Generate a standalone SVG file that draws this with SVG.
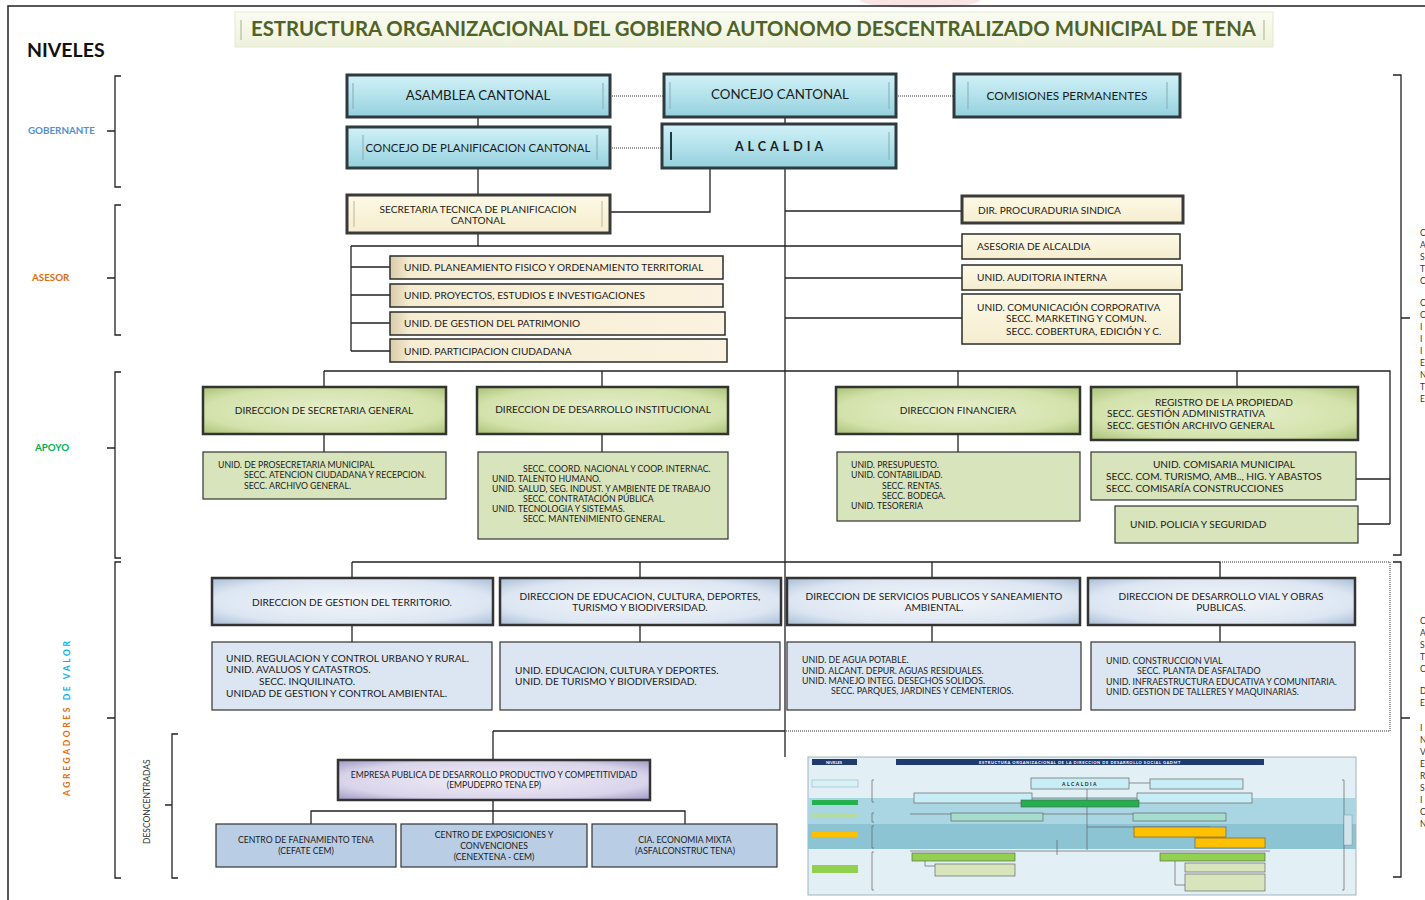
<svg xmlns="http://www.w3.org/2000/svg" width="1425" height="900" viewBox="0 0 1425 900">
<defs>
<linearGradient id="gCyan" x1="0" y1="0" x2="0" y2="1">
<stop offset="0" stop-color="#d2f1f7"/><stop offset="0.5" stop-color="#b3e2ec"/><stop offset="1" stop-color="#94d0dd"/>
</linearGradient>
<linearGradient id="gCream" x1="0" y1="0" x2="1" y2="0">
<stop offset="0" stop-color="#d9cba8"/><stop offset="0.06" stop-color="#f6ecd2"/><stop offset="1" stop-color="#fbf3df"/>
</linearGradient>
<linearGradient id="gCreamV" x1="0" y1="0" x2="0" y2="1">
<stop offset="0" stop-color="#fdf9e6"/><stop offset="1" stop-color="#f5edcf"/>
</linearGradient>
<radialGradient id="gGreen" cx="0.5" cy="0.5" r="0.7">
<stop offset="0" stop-color="#e6efcd"/><stop offset="0.7" stop-color="#d3e2ab"/><stop offset="1" stop-color="#aac277"/>
</radialGradient>
<radialGradient id="gBlue" cx="0.5" cy="0.5" r="0.7">
<stop offset="0" stop-color="#f3f6fb"/><stop offset="0.7" stop-color="#dce6f2"/><stop offset="1" stop-color="#a9bdd6"/>
</radialGradient>
<radialGradient id="gLav" cx="0.5" cy="0.5" r="0.7">
<stop offset="0" stop-color="#f1eef7"/><stop offset="0.7" stop-color="#d9d4ea"/><stop offset="1" stop-color="#9f98c4"/>
</radialGradient>
<linearGradient id="gTitle" x1="0" y1="0" x2="0" y2="1">
<stop offset="0" stop-color="#fbfcf2"/><stop offset="1" stop-color="#eef2dc"/>
</linearGradient>
<style>
text{font-family:Lato,"Liberation Sans",sans-serif;fill:#1a1a1a}
.c{text-anchor:middle}
.cyan{fill:url(#gCyan);stroke:#2f3a3e;stroke-width:3}
.cream{fill:url(#gCream);stroke:#2b2b2b;stroke-width:1.5}
.creamv{fill:url(#gCreamV);stroke:#3a3a3a;stroke-width:3}
.gdir{fill:url(#gGreen);stroke:#333;stroke-width:2.5}
.gunit{fill:#d8e4bc;stroke:#333;stroke-width:1.2}
.bdir{fill:url(#gBlue);stroke:#333;stroke-width:2.5}
.bunit{fill:#dce6f2;stroke:#333;stroke-width:1.2}
.lav{fill:url(#gLav);stroke:#333;stroke-width:2.5}
.lb{fill:#b9cde5;stroke:#333;stroke-width:1.2}
.bar{stroke:#8fb4bd;stroke-width:1.2;fill:none}
.ln{stroke:#222;stroke-width:1.3;fill:none}
.dot{stroke:#333;stroke-width:1;fill:none;stroke-dasharray:1 1}
.br{stroke:#222;stroke-width:1.3;fill:none}
.t13{font-size:13.3px}
.t11{font-size:11.8px}
.t10{font-size:11.4px}
.t9{font-size:10.1px}
.t8{font-size:8.8px}
.t75{font-size:8.7px}
.t85{font-size:8.6px}
.edge{font-size:8.5px;fill:#333}
</style>
</defs>
<rect x="0" y="0" width="1425" height="900" fill="#ffffff"/>
<ellipse cx="920" cy="0" rx="60" ry="8" fill="#f3c9c9" opacity="0.5"/>
<path d="M8,900 V6 H1425" stroke="#222" stroke-width="1.5" fill="none"/>

<g id="title">
<rect x="235" y="12" width="1038" height="35" fill="url(#gTitle)" stroke="#e3e8cf" stroke-width="1"/>
<line x1="241" y1="20" x2="241" y2="40" stroke="#c0c8a8" stroke-width="1.5"/>
<line x1="1264" y1="20" x2="1264" y2="40" stroke="#c0c8a8" stroke-width="1.5"/>
<text x="251" y="36" textLength="1005" lengthAdjust="spacingAndGlyphs" style="font-size:20px;font-weight:bold;fill:#4f6228">ESTRUCTURA ORGANIZACIONAL DEL GOBIERNO AUTONOMO DESCENTRALIZADO MUNICIPAL DE TENA</text>
</g>
<text x="27" y="57" style="font-size:19.5px;font-weight:bold;fill:#111">NIVELES</text>

<g id="levels">
<path class="br" d="M121,76 H115 V187 H121 M107,131 H115"/>
<path class="br" d="M121,205 H115 V335 H121 M107,278 H115"/>
<path class="br" d="M121,372 H115 V558 H121 M107,448 H115"/>
<path class="br" d="M121,562 H115 V878 H121 M107,718 H115"/>
<path class="br" d="M178,734 H172 V878 H178 M165,805 H172"/>
<path class="br" d="M1393,75 H1401 V555 H1393 M1401,318 H1410"/>
<path class="br" d="M1393,562 H1401 V877 H1393 M1401,718 H1410"/>
<text x="28" y="134" style="font-size:9.8px;font-weight:bold;fill:#558ed5">GOBERNANTE</text>
<text x="32" y="281" style="font-size:9.8px;font-weight:bold;fill:#e46c0a">ASESOR</text>
<text x="35" y="451" style="font-size:9.8px;font-weight:bold;fill:#00b050">APOYO</text>
<text transform="translate(70,796) rotate(-90)" style="font-size:8.5px;font-weight:bold;letter-spacing:2.6px"><tspan style="fill:#e46c0a">AGREGADORES</tspan><tspan style="fill:#00b0f0"> DE VALOR</tspan></text>
<text transform="translate(150,844) rotate(-90)" style="font-size:8.5px;fill:#333">DESCONCENTRADAS</text>
</g>

<g id="edge-text">
<text class="edge" x="1420" y="236">C</text><text class="edge" x="1420" y="248">A</text><text class="edge" x="1420" y="260">S</text><text class="edge" x="1420" y="272">T</text><text class="edge" x="1420" y="284">C</text>
<text class="edge" x="1420" y="306">C</text><text class="edge" x="1420" y="318">C</text><text class="edge" x="1420" y="330">I</text><text class="edge" x="1420" y="342">I</text><text class="edge" x="1420" y="354">I</text><text class="edge" x="1420" y="366">E</text><text class="edge" x="1420" y="378">N</text><text class="edge" x="1420" y="390">T</text><text class="edge" x="1420" y="402">E</text>
<text class="edge" x="1420" y="624">C</text><text class="edge" x="1420" y="636">A</text><text class="edge" x="1420" y="648">S</text><text class="edge" x="1420" y="660">T</text><text class="edge" x="1420" y="672">C</text>
<text class="edge" x="1420" y="694">D</text><text class="edge" x="1420" y="706">E</text>
<text class="edge" x="1420" y="731">I</text><text class="edge" x="1420" y="743">N</text><text class="edge" x="1420" y="755">V</text><text class="edge" x="1420" y="767">E</text><text class="edge" x="1420" y="779">R</text><text class="edge" x="1420" y="791">S</text><text class="edge" x="1420" y="803">I</text><text class="edge" x="1420" y="815">C</text><text class="edge" x="1420" y="827">N</text>
</g>

<g id="connectors">
<path class="dot" d="M610,96 H664 M896,96 H954 M610,148 H662"/>
<path class="ln" d="M478,117 V127 M785,117 V124 M478,168 V195 M710,168 V212 H610 M785,168 V757"/>
<path class="ln" d="M478,233 V246 M351,246 H962 M351,246 V351 M351,267 H390 M351,295 H390 M351,323 H390 M351,351 H390"/>
<path class="ln" d="M785,211 H962 M785,278 H962 M785,318 H962"/>
<path class="ln" d="M324,371 H1390 V524 M324,371 V387 M602,371 V387 M958,371 V387 M1237,371 V387 M1356,479 H1390 M1358,524 H1390"/>
<path class="ln" d="M324,434 V452 M602,434 V452 M958,434 V452"/>
<path class="ln" d="M352,562 H1220 M352,562 V578 M640,562 V578 M932,562 V578 M1220,562 V578"/>
<path class="dot" d="M1220,562 H1390 V731 H785"/>
<path class="ln" d="M352,625 V642 M640,625 V642 M932,625 V642 M1220,625 V642"/>
<path class="ln" d="M493,731 H785 M493,731 V760 M493,800 V824 M311,824 V811 H685 V824"/>
</g>

<g id="asamblea"><rect class="cyan" x="347" y="75" width="263" height="42"/><path class="bar" d="M353,83 V109 M603,83 V109"/><text class="c t13" x="478" y="100">ASAMBLEA CANTONAL</text></g>
<g id="concejo"><rect class="cyan" x="664" y="74" width="232" height="43"/><path class="bar" d="M670,82 V109 M889,82 V109"/><text class="c t13" x="780" y="99">CONCEJO CANTONAL</text></g>
<g id="comisiones"><rect class="cyan" x="954" y="74" width="226" height="43"/><path class="bar" d="M968,82 V109 M1167,82 V109"/><text class="c t11" x="1067" y="100">COMISIONES  PERMANENTES</text></g>
<g id="concejo-plan"><rect class="cyan" x="347" y="127" width="263" height="41"/><path class="bar" d="M363,135 V160 M597,135 V160"/><text class="c t10" x="478" y="152">CONCEJO  DE PLANIFICACION  CANTONAL</text></g>
<g id="alcaldia"><rect class="cyan" x="662" y="124" width="234" height="44"/><path d="M671,132 V160" style="stroke:#1f3b45;stroke-width:2"/><path class="bar" d="M889,132 V160"/><text class="c" x="781" y="151" style="font-size:12.5px;font-weight:bold;letter-spacing:4px">ALCALDIA</text></g>

<g id="secretaria-tecnica"><rect class="creamv" x="347" y="195" width="263" height="38"/><path class="bar" d="M354,201 V227 M602,201 V227" style="stroke:#c9bf9e"/><text class="c t9" x="478" y="213">SECRETARIA TECNICA DE PLANIFICACION</text><text class="c t9" x="478" y="224">CANTONAL</text></g>
<g id="u-planeamiento"><rect class="cream" x="390" y="256" width="333" height="23"/><text class="t9" x="404" y="271">UNID. PLANEAMIENTO FISICO Y ORDENAMIENTO TERRITORIAL</text></g>
<g id="u-proyectos"><rect class="cream" x="390" y="284" width="333" height="23"/><text class="t9" x="404" y="299">UNID. PROYECTOS,  ESTUDIOS E INVESTIGACIONES</text></g>
<g id="u-patrimonio"><rect class="cream" x="390" y="312" width="335" height="23"/><text class="t9" x="404" y="327">UNID. DE GESTION DEL PATRIMONIO</text></g>
<g id="u-participacion"><rect class="cream" x="390" y="339" width="337" height="23"/><text class="t9" x="404" y="355">UNID. PARTICIPACION  CIUDADANA</text></g>

<g id="procuraduria"><rect class="creamv" x="962" y="196" width="221" height="27"/><text class="t9" x="978" y="214">DIR. PROCURADURIA  SINDICA</text></g>
<g id="asesoria"><rect class="cream" x="962" y="234" width="218" height="25" style="fill:url(#gCreamV)"/><text class="t9" x="977" y="250">ASESORIA DE ALCALDIA</text></g>
<g id="auditoria"><rect class="cream" x="962" y="265" width="220" height="25" style="fill:url(#gCreamV)"/><text class="t9" x="977" y="281">UNID. AUDITORIA INTERNA</text></g>
<g id="comunicacion"><rect class="cream" x="962" y="294" width="218" height="50" style="fill:url(#gCreamV)"/><text class="t9" x="977" y="311">UNID. COMUNICACIÓN CORPORATIVA</text><text class="t9" x="1006" y="322">SECC. MARKETING Y COMUN.</text><text class="t9" x="1006" y="335">SECC. COBERTURA, EDICIÓN Y C.</text></g>

<g id="dir-secretaria"><rect class="gdir" x="203" y="387" width="243" height="47"/><text class="c t9" x="324" y="414">DIRECCION  DE SECRETARIA GENERAL</text></g>
<g id="dir-institucional"><rect class="gdir" x="477" y="387" width="251" height="47"/><text class="c t9" x="603" y="413">DIRECCION  DE DESARROLLO INSTITUCIONAL</text></g>
<g id="dir-financiera"><rect class="gdir" x="836" y="387" width="244" height="47"/><text class="c t9" x="958" y="414">DIRECCION  FINANCIERA</text></g>
<g id="registro"><rect class="gdir" x="1091" y="387" width="267" height="53"/><text class="c t9" x="1224" y="406">REGISTRO DE LA PROPIEDAD</text><text class="t9" x="1107" y="417">SECC. GESTIÓN ADMINISTRATIVA</text><text class="t9" x="1107" y="429">SECC. GESTIÓN ARCHIVO GENERAL</text></g>

<g id="u-secretaria"><rect class="gunit" x="203" y="452" width="243" height="47"/><text class="t75" x="218" y="468">UNID. DE PROSECRETARIA MUNICIPAL</text><text class="t75" x="244" y="478">SECC. ATENCION CIUDADANA Y RECEPCION.</text><text class="t75" x="244" y="489">SECC. ARCHIVO GENERAL.</text></g>
<g id="u-institucional"><rect class="gunit" x="478" y="452" width="250" height="87"/><text class="t75" x="523" y="472">SECC. COORD. NACIONAL Y COOP. INTERNAC.</text><text class="t75" x="492" y="482">UNID. TALENTO HUMANO.</text><text class="t75" x="492" y="492">UNID. SALUD, SEG. INDUST. Y AMBIENTE DE TRABAJO</text><text class="t75" x="523" y="502">SECC. CONTRATACIÓN PÚBLICA</text><text class="t75" x="492" y="512">UNID. TECNOLOGIA Y SISTEMAS.</text><text class="t75" x="523" y="522">SECC. MANTENIMIENTO GENERAL.</text></g>
<g id="u-financiera"><rect class="gunit" x="837" y="452" width="243" height="69"/><text class="t75" x="851" y="468">UNID. PRESUPUESTO.</text><text class="t75" x="851" y="478">UNID. CONTABILIDAD.</text><text class="t75" x="882" y="489">SECC. RENTAS.</text><text class="t75" x="882" y="499">SECC. BODEGA.</text><text class="t75" x="851" y="509">UNID. TESORERIA</text></g>
<g id="comisaria"><rect class="gunit" x="1091" y="452" width="265" height="48"/><text class="c t9" x="1224" y="468">UNID. COMISARIA MUNICIPAL</text><text class="t9" x="1106" y="480">SECC. COM. TURISMO, AMB.., HIG. Y ABASTOS</text><text class="t9" x="1106" y="492">SECC. COMISARÍA CONSTRUCCIONES</text></g>
<g id="policia"><rect class="gunit" x="1115" y="506" width="243" height="37"/><text class="t9" x="1130" y="528">UNID. POLICIA  Y SEGURIDAD</text></g>

<g id="dir-territorio"><rect class="bdir" x="212" y="578" width="281" height="47"/><text class="c t9" x="352" y="606">DIRECCION  DE GESTION DEL TERRITORIO.</text></g>
<g id="dir-educacion"><rect class="bdir" x="500" y="578" width="281" height="47"/><text class="c t9" x="640" y="600">DIRECCION  DE EDUCACION, CULTURA, DEPORTES,</text><text class="c t9" x="640" y="611">TURISMO Y BIODIVERSIDAD.</text></g>
<g id="dir-servicios"><rect class="bdir" x="787" y="578" width="293" height="47"/><text class="c t9" x="934" y="600">DIRECCION  DE SERVICIOS PUBLICOS Y SANEAMIENTO</text><text class="c t9" x="934" y="611">AMBIENTAL.</text></g>
<g id="dir-vial"><rect class="bdir" x="1088" y="578" width="267" height="47"/><text class="c t9" x="1221" y="600">DIRECCION  DE DESARROLLO VIAL Y OBRAS</text><text class="c t9" x="1221" y="611">PUBLICAS.</text></g>

<g id="u-territorio"><rect class="bunit" x="212" y="642" width="280" height="68"/><text class="t9" x="226" y="662">UNID. REGULACION Y CONTROL URBANO Y RURAL.</text><text class="t9" x="226" y="673">UNID. AVALUOS Y CATASTROS.</text><text class="t9" x="259" y="685">SECC. INQUILINATO.</text><text class="t9" x="226" y="697">UNIDAD DE GESTION Y CONTROL AMBIENTAL.</text></g>
<g id="u-educacion"><rect class="bunit" x="500" y="642" width="280" height="68"/><text class="t9" x="515" y="674">UNID. EDUCACION, CULTURA  Y DEPORTES.</text><text class="t9" x="515" y="685">UNID. DE TURISMO Y BIODIVERSIDAD.</text></g>
<g id="u-servicios"><rect class="bunit" x="787" y="642" width="294" height="68"/><text class="t8" x="802" y="663">UNID. DE AGUA POTABLE.</text><text class="t8" x="802" y="674">UNID. ALCANT. DEPUR. AGUAS RESIDUALES.</text><text class="t8" x="802" y="684">UNID. MANEJO INTEG. DESECHOS SOLIDOS.</text><text class="t8" x="831" y="694">SECC. PARQUES, JARDINES Y CEMENTERIOS.</text></g>
<g id="u-vial"><rect class="bunit" x="1091" y="642" width="264" height="68"/><text class="t8" x="1106" y="664">UNID. CONSTRUCCION VIAL</text><text class="t8" x="1137" y="674">SECC. PLANTA DE ASFALTADO</text><text class="t8" x="1106" y="685">UNID. INFRAESTRUCTURA EDUCATIVA Y COMUNITARIA.</text><text class="t8" x="1106" y="695">UNID. GESTION DE TALLERES Y MAQUINARIAS.</text></g>

<g id="empresa"><rect class="lav" x="338" y="760" width="312" height="40"/><text class="c t85" x="494" y="778">EMPRESA PUBLICA DE DESARROLLO PRODUCTIVO Y COMPETITIVIDAD</text><text class="c t85" x="494" y="788">(EMPUDEPRO TENA EP)</text></g>
<g id="cefate"><rect class="lb" x="216" y="824" width="180" height="43"/><text class="c t85" x="306" y="843">CENTRO DE FAENAMIENTO TENA</text><text class="c t85" x="306" y="854">(CEFATE CEM)</text></g>
<g id="cenextena"><rect class="lb" x="401" y="824" width="186" height="43"/><text class="c t85" x="494" y="838">CENTRO DE EXPOSICIONES Y</text><text class="c t85" x="494" y="849">CONVENCIONES</text><text class="c t85" x="494" y="860">(CENEXTENA - CEM)</text></g>
<g id="asfalconstruc"><rect class="lb" x="592" y="824" width="185" height="43"/><text class="c t85" x="685" y="843">CIA. ECONOMIA MIXTA</text><text class="c t85" x="685" y="854">(ASFALCONSTRUC TENA)</text></g>

<g id="inset">
<rect x="808" y="757" width="548" height="138" fill="#e2eff5" stroke="#9fb3bd" stroke-width="1"/>
<rect x="808" y="798" width="548" height="26" fill="#a9d6e2"/>
<rect x="808" y="824" width="548" height="25" fill="#8cc4d4"/>
<rect x="812" y="759" width="45" height="6" fill="#1f3a6e"/>
<rect x="896" y="759" width="368" height="6" fill="#1f3a6e"/>
<text x="834" y="764" style="font-size:4px;fill:#fff;text-anchor:middle;font-weight:bold">NIVELES</text>
<text x="1080" y="764" style="font-size:4px;fill:#fff;text-anchor:middle;font-weight:bold;letter-spacing:0.6px">ESTRUCTURA ORGANIZACIONAL DE LA DIRECCION DE DESARROLLO SOCIAL GADMT</text>
<rect x="812" y="780" width="46" height="7" fill="#d8f0f7" stroke="#8ab" stroke-width="0.5"/>
<rect x="812" y="800" width="46" height="5" fill="#22b14c"/>
<rect x="812" y="813" width="46" height="5" fill="#b5dca0"/>
<rect x="812" y="832" width="46" height="5" fill="#ffc000"/>
<rect x="812" y="865" width="46" height="8" fill="#92d050"/>
<path d="M874,780 H872 V802 H874 M874,813 H872 V822 H874 M874,826 H872 V848 H874 M874,852 H872 V890 H874 M1342,780 H1344 V890 H1342" stroke="#666" stroke-width="0.7" fill="none"/>
<rect x="1344" y="815" width="8" height="30" fill="#d0e4ec" stroke="#888" stroke-width="0.4"/>
<path d="M1087,789 V850 M1129,783 H1150 M1032,798 H1137 M910,814 H1210 M1087,827 H1210 M910,851 H1270 M1057,840 V855 M1015,866 H925 V860 M1175,861 V885 H1185" stroke="#666" stroke-width="0.7" fill="none"/>
<rect x="1031" y="778" width="98" height="11" fill="#c7eef6" stroke="#777" stroke-width="0.8"/>
<text x="1080" y="786" style="font-size:5px;text-anchor:middle;font-weight:bold;letter-spacing:1.5px">ALCALDIA</text>
<rect x="1150" y="779" width="93" height="10" fill="#c7eef6" stroke="#777" stroke-width="0.8"/>
<rect x="914" y="793" width="118" height="10" fill="#c7eef6" stroke="#777" stroke-width="0.8"/>
<rect x="1137" y="793" width="115" height="10" fill="#c7eef6" stroke="#777" stroke-width="0.8"/>
<rect x="1021" y="800" width="118" height="7" fill="#22b14c" stroke="#555" stroke-width="0.6"/>
<rect x="951" y="813" width="92" height="8" fill="#a6dccd" stroke="#555" stroke-width="0.6"/>
<rect x="1133" y="813" width="93" height="8" fill="#a6dccd" stroke="#555" stroke-width="0.6"/>
<rect x="1134" y="827" width="92" height="10" fill="#ffc000" stroke="#555" stroke-width="0.6"/>
<rect x="1195" y="838" width="70" height="10" fill="#ffc000" stroke="#555" stroke-width="0.6"/>
<rect x="912" y="853" width="103" height="8" fill="#92d050" stroke="#555" stroke-width="0.6"/>
<rect x="935" y="864" width="80" height="12" fill="#d8e4bc" stroke="#555" stroke-width="0.6"/>
<rect x="1160" y="853" width="105" height="8" fill="#92d050" stroke="#555" stroke-width="0.6"/>
<rect x="1185" y="863" width="80" height="9" fill="#d8e4bc" stroke="#555" stroke-width="0.6"/>
<rect x="1185" y="874" width="80" height="17" fill="#d8e4bc" stroke="#555" stroke-width="0.6"/>
</g>
</svg>
